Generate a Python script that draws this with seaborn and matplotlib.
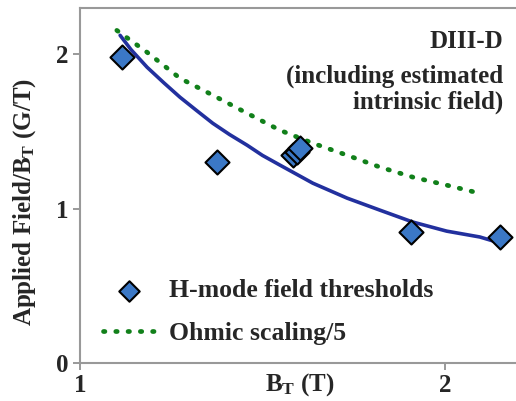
import matplotlib
matplotlib.use('Agg')
import matplotlib.pyplot as plt
import seaborn as sns
import pandas as pd

# H-mode threshold points
bt_points = [1.115, 1.375, 1.584, 1.595, 1.603, 1.907, 2.151]
field_points = [1.98, 1.30, 1.346, 1.366, 1.392, 0.848, 0.816]

# fitted curve (solid, not in legend)
bt_fit = [1.110, 1.140, 1.184, 1.230, 1.274, 1.320, 1.364, 1.410, 1.458, 1.500, 1.548,
          1.638, 1.732, 1.822, 1.912, 2.005, 2.096, 2.151]
field_fit = [2.123, 2.03, 1.916, 1.815, 1.722, 1.635, 1.553, 1.480, 1.411, 1.345, 1.282,
             1.165, 1.068, 0.990, 0.913, 0.854, 0.816, 0.777]

# Ohmic scaling / 5 (dotted)
bt_ohmic = [1.101, 1.184, 1.274, 1.364, 1.458, 1.548, 1.638, 1.732, 1.822, 1.912, 2.005, 2.082]
field_ohmic = [2.155, 2.013, 1.845, 1.735, 1.618, 1.508, 1.424, 1.346, 1.269, 1.204, 1.152, 1.107]

x_ticks = [1, 2]
y_ticks = [0, 1, 2]

sns.set_theme(style='white')
plt.rcParams['font.family'] = ['Liberation Serif', 'DejaVu Serif']
plt.rcParams['font.weight'] = 'bold'
plt.rcParams['mathtext.fontset'] = 'custom'
plt.rcParams['mathtext.rm'] = 'Liberation Serif:bold'
plt.rcParams['mathtext.bf'] = 'Liberation Serif:bold'
plt.rcParams['mathtext.it'] = 'Liberation Serif:bold'

fig = plt.figure(figsize=(5.16, 4.01), dpi=100)
ax = fig.add_axes([0.155, 0.095, 0.845, 0.885])

pts = pd.DataFrame({'bt': bt_points, 'field': field_points})
fit = pd.DataFrame({'bt': bt_fit, 'field': field_fit})
ohm = pd.DataFrame({'bt': bt_ohmic, 'field': field_ohmic})

sns.lineplot(data=fit, x='bt', y='field', color='#22309e', linewidth=2.6,
             sort=False, ax=ax, legend=False)
sns.lineplot(data=ohm, x='bt', y='field', color='#11801a', linewidth=3.4,
             linestyle=(0, (0.3, 2.3)), dash_capstyle='round', sort=False, ax=ax,
             label='Ohmic scaling/5')
sns.scatterplot(data=pts, x='bt', y='field', marker='D', s=150, color='#3b78c6',
                edgecolor='black', linewidth=1.5, ax=ax, zorder=3,
                label='H-mode field thresholds')

ax.set_xlim(1.0, 2.195)
ax.set_ylim(0, 2.30)
ax.set_xticks(x_ticks)
ax.set_yticks(y_ticks)
ax.set_xticklabels([str(v) for v in x_ticks], fontsize=18, fontweight='bold')
ax.set_yticklabels([str(v) for v in y_ticks], fontsize=18, fontweight='bold')
ax.tick_params(axis='both', length=5, width=1.2, color='#888888', pad=3,
               bottom=True, left=True)

for side in ['left', 'bottom', 'top']:
    ax.spines[side].set_color('#999999')
    ax.spines[side].set_linewidth(1.5)
ax.spines['right'].set_visible(False)

ax.set_xlabel('')
ax.set_ylabel('Applied Field/B$_\\mathbf{T}$ (G/T)', fontsize=18, fontweight='bold')
ax.yaxis.set_label_coords(-0.097, 0.455)
ax.text(0.505, -0.062, 'B$_\\mathbf{T}$ (T)', transform=ax.transAxes, ha='center',
        va='center', fontsize=18, fontweight='bold')

ax.text(0.97, 0.905, 'DIII-D', transform=ax.transAxes, ha='right', va='center',
        fontsize=18, fontweight='bold')
ax.text(0.97, 0.84, '(including estimated\nintrinsic field)', transform=ax.transAxes,
        ha='right', va='top', fontsize=18, fontweight='bold', linespacing=1.15)

handles, labels = ax.get_legend_handles_labels()
order = [labels.index('H-mode field thresholds'), labels.index('Ohmic scaling/5')]
ax.legend([handles[i] for i in order], [labels[i] for i in order],
          loc='lower left', bbox_to_anchor=(0.0, -0.014), frameon=False,
          prop={'weight': 'bold', 'size': 18.5}, handlelength=2.0,
          handletextpad=0.55, labelspacing=0.75, markerscale=0.85)

fig.savefig('out.png', dpi=100)
